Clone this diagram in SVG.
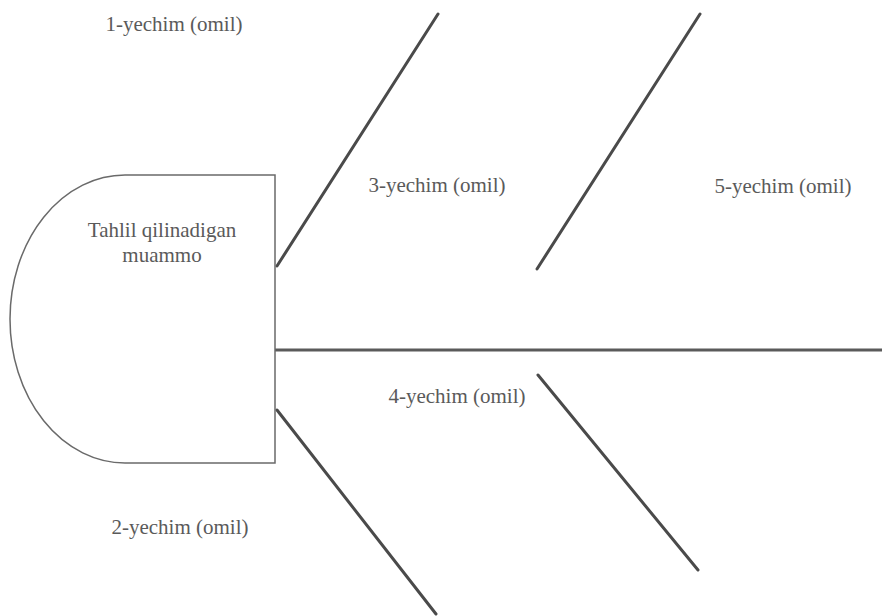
<svg xmlns="http://www.w3.org/2000/svg" width="882" height="616" viewBox="0 0 882 616">
<style>
text{font-family:'Liberation Serif','Times New Roman','DejaVu Serif',serif;font-size:21px;fill:#5a5a5a;text-anchor:middle}
.bone{stroke:#4a4a4a;stroke-width:3;stroke-linecap:round;fill:none}
.head{fill:#ffffff;stroke:#6a6a6a;stroke-width:1.5}
</style>
<rect width="882" height="616" fill="#ffffff"/>
<g id="connectors">
<line class="bone" x1="275" y1="350" x2="882" y2="350" style="stroke:#5a5a5a;stroke-linecap:butt"/>
<line class="bone" x1="277" y1="266" x2="438" y2="14"/>
<line class="bone" x1="537" y1="269" x2="700" y2="14"/>
<line class="bone" x1="277" y1="410" x2="436" y2="614"/>
<line class="bone" x1="538" y1="375" x2="698" y2="570"/>
</g>
<g id="head">
<path class="head" d="M275,175 H125 A115,144 0 0 0 125,463 H275 Z"/>
<text x="162" y="237" font-family="Liberation Serif, serif">Tahlil qilinadigan</text>
<text x="162" y="262" font-family="Liberation Serif, serif">muammo</text>
</g>
<g id="cause1"><text x="174" y="31">1-yechim (omil)</text></g>
<g id="cause2"><text x="180" y="534">2-yechim (omil)</text></g>
<g id="cause3"><text x="437" y="192">3-yechim (omil)</text></g>
<g id="cause4"><text x="457" y="403">4-yechim (omil)</text></g>
<g id="cause5"><text x="783" y="193">5-yechim (omil)</text></g>
</svg>
